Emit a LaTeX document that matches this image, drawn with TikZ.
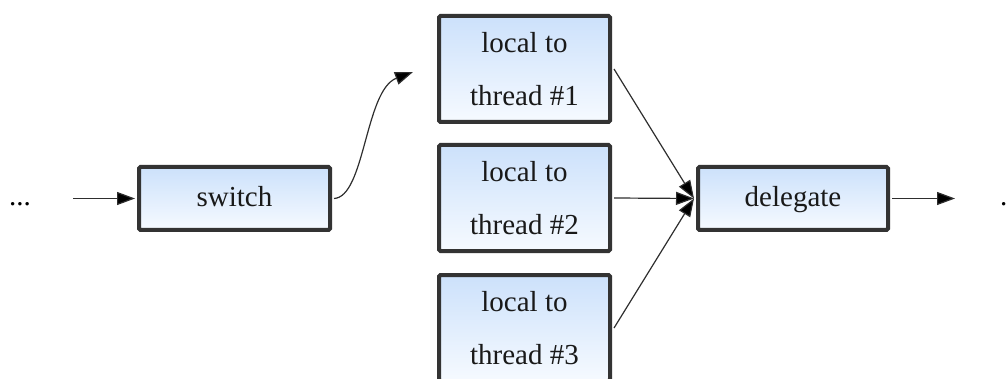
\documentclass[tikz,border=0pt]{standalone}
\usepackage{fontspec}
\setmainfont{Liberation Serif}
\usetikzlibrary{arrows.meta}
\definecolor{boxedge}{HTML}{333333}
\definecolor{boxtop}{HTML}{CCE1FB}
\definecolor{boxbottom}{HTML}{F6FAFF}
\definecolor{wire}{HTML}{2E2E2E}
\tikzset{
  stage/.style={draw=boxedge, line width=4pt, rounded corners=1.5pt,
    top color=boxtop, bottom color=boxbottom, inner sep=0pt,
    font=\fontsize{29}{53}\selectfont, align=center, text=black!90},
  wide/.style={stage, minimum width=191pt, minimum height=63pt,
    text height=20pt, text depth=3pt},
  tall/.style={stage, minimum width=171pt, minimum height=106pt},
  flow/.style={draw=wire, line width=1.2pt,
    -{Triangle[length=18pt,width=13pt,fill=black]}},
  dots/.style={font=\fontsize{29}{30}\selectfont, anchor=base, inner sep=0pt}
}
\begin{document}
\begin{tikzpicture}[x=1pt,y=-1pt]
  \useasboundingbox (0,0) rectangle (1008,379);

  % entry and exit markers
  \node[dots] (in)  at (20,206) {...};
  \node[dots, anchor=base west] (out) at (1000,206) {...};
  \coordinate (inend) at (73,198.5);
  \coordinate (outend) at (955,198.5);

  % pipeline stages
  \node[wide] (switch) at (234.5,198.5) {switch};
  \node[tall] (t1) at (524.5,69)  {local to\\thread \#1};
  \node[tall] (t2) at (524.5,198) {local to\\thread \#2};
  \node[tall] (t3) at (524.5,328) {local to\\thread \#3};
  \node[wide, minimum width=190pt] (delegate) at (793,198.5) {delegate};

  % dispatch point of the switch
  \coordinate (pick) at (413,72);

  % connectors
  \draw[flow] (inend) -- ([xshift=-2pt]switch.west);
  \draw[flow] ([xshift=2pt]switch.east) .. controls (365,197) and (365,90) .. (pick);
  \draw[flow] ([xshift=2pt]t1.east) -- ([xshift=-2pt]delegate.west);
  \draw[flow] ([xshift=2pt]t2.east) -- ([xshift=-2pt]delegate.west);
  \draw[flow] ([xshift=2pt]t3.east) -- ([xshift=-2pt]delegate.west);
  \draw[flow] ([xshift=2pt]delegate.east) -- (outend);
\end{tikzpicture}
\end{document}
